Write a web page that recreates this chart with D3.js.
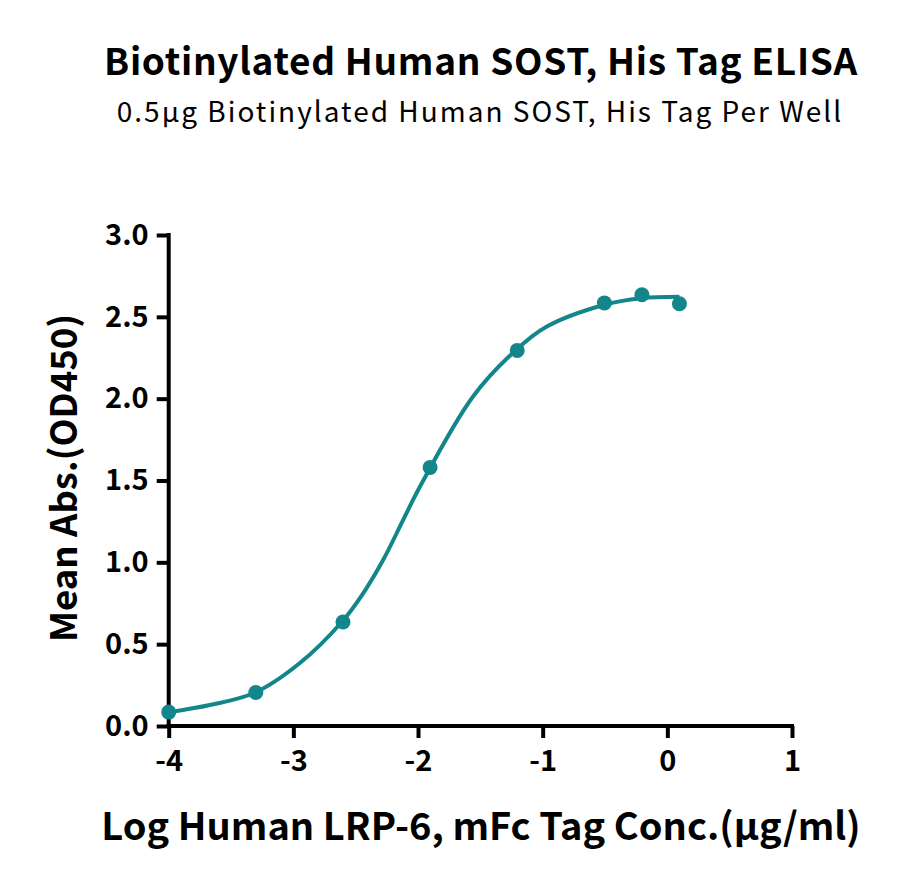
<!DOCTYPE html>
<html>
    <head>
        <meta charset="utf-8"/>
        <script src="https://cdnjs.cloudflare.com/ajax/libs/d3/7.8.5/d3.min.js"></script>
        <style>
            body { margin: 0; background: #fff; }
            text { font-family: "Noto Sans CJK SC", "Noto Sans", sans-serif; }
        </style>
    </head>
    <body>
        <script>
            // measured points (log conc, OD450)
            const logConc = [-4.0, -3.301, -2.602, -1.903, -1.204, -0.505, -0.204, 0.097]
            const meanAbs = [0.085, 0.205, 0.635, 1.58, 2.295, 2.585, 2.635, 2.58]

            // fitted curve
            const fitX = [-4.0, -3.67, -3.31, -2.95, -2.61, -2.44, -2.28, -2.12, -1.985, -1.56, -1.22, -0.97, -0.51, -0.21, 0.097]
            const fitY = [0.084, 0.128, 0.203, 0.383, 0.637, 0.811, 1.014, 1.258, 1.462, 2.012, 2.293, 2.439, 2.572, 2.613, 2.622]

            const xTicks = [-4, -3, -2, -1, 0, 1]
            const yTicks = [0, 0.5, 1, 1.5, 2, 2.5, 3]

            const title = "Biotinylated Human SOST, His Tag ELISA"
            const subtitle = "0.5μg Biotinylated Human SOST, His Tag Per Well"
            const xLabel = "Log Human LRP-6, mFc Tag Conc.(μg/ml)"
            const yLabel = "Mean Abs.(OD450)"

            const width = 900, height = 888
            const teal = "#12868a"

            const svg = d3.select("body").append("svg")
                .attr("width", width)
                .attr("height", height)

            const x = d3.scaleLinear().domain([-4, 1]).range([168.7, 792])
            const y = d3.scaleLinear().domain([0, 3]).range([726, 235])

            svg.append("text")
                .attr("x", 481).attr("y", 75)
                .attr("text-anchor", "middle")
                .attr("font-size", 37).attr("font-weight", "bold")
                .attr("letter-spacing", 0.7)
                .text(title)

            svg.append("text")
                .attr("x", 480).attr("y", 122)
                .attr("text-anchor", "middle")
                .attr("font-size", 28)
                .attr("letter-spacing", 2)
                .text(subtitle)

            const xAxis = svg.append("g")
                .attr("transform", `translate(0,${y(0)})`)
                .call(d3.axisBottom(x).tickValues(xTicks).tickSize(12).tickPadding(12).tickFormat(d3.format("d")))
            const yAxis = svg.append("g")
                .attr("transform", `translate(${x(-4)},0)`)
                .call(d3.axisLeft(y).tickValues(yTicks).tickSize(12).tickPadding(8).tickFormat(d3.format(".1f")))

            for (const g of [xAxis, yAxis]) {
                g.select(".domain").attr("stroke", "#000").attr("stroke-width", 4)
                    .attr("d", g === xAxis ? `M${x(-4) - 2},0H${x(1) + 2}` : `M0,${y(0) + 2}V${y(3) - 2}`)
                g.selectAll(".tick line").attr("stroke", "#000").attr("stroke-width", 4)
                g.selectAll(".tick text")
                    .attr("fill", "#000")
                    .attr("font-size", 29).attr("font-weight", "bold")
                    .attr("font-family", "'Noto Sans CJK SC', sans-serif")
            }
            xAxis.selectAll(".tick text").text(d => d < 0 ? "-" + Math.abs(d) : d)

            svg.append("text")
                .attr("transform", "translate(77,478) rotate(-90)")
                .attr("text-anchor", "middle")
                .attr("font-size", 36.5).attr("font-weight", "bold")
                .text(yLabel)

            svg.append("text")
                .attr("x", 481).attr("y", 840)
                .attr("text-anchor", "middle")
                .attr("font-size", 38).attr("font-weight", "bold")
                .text(xLabel)

            const fit = fitX.map((v, i) => [v, fitY[i]])
            svg.append("path")
                .datum(fit)
                .attr("fill", "none")
                .attr("stroke", teal)
                .attr("stroke-width", 4)
                .attr("d", d3.line().x(d => x(d[0])).y(d => y(d[1])).curve(d3.curveCatmullRom.alpha(0.5)))

            svg.append("g")
                .selectAll("circle")
                .data(logConc.map((v, i) => [v, meanAbs[i]]))
                .join("circle")
                .attr("cx", d => x(d[0]))
                .attr("cy", d => y(d[1]))
                .attr("r", 7.5)
                .attr("fill", teal)
        </script>
    </body>
</html>
